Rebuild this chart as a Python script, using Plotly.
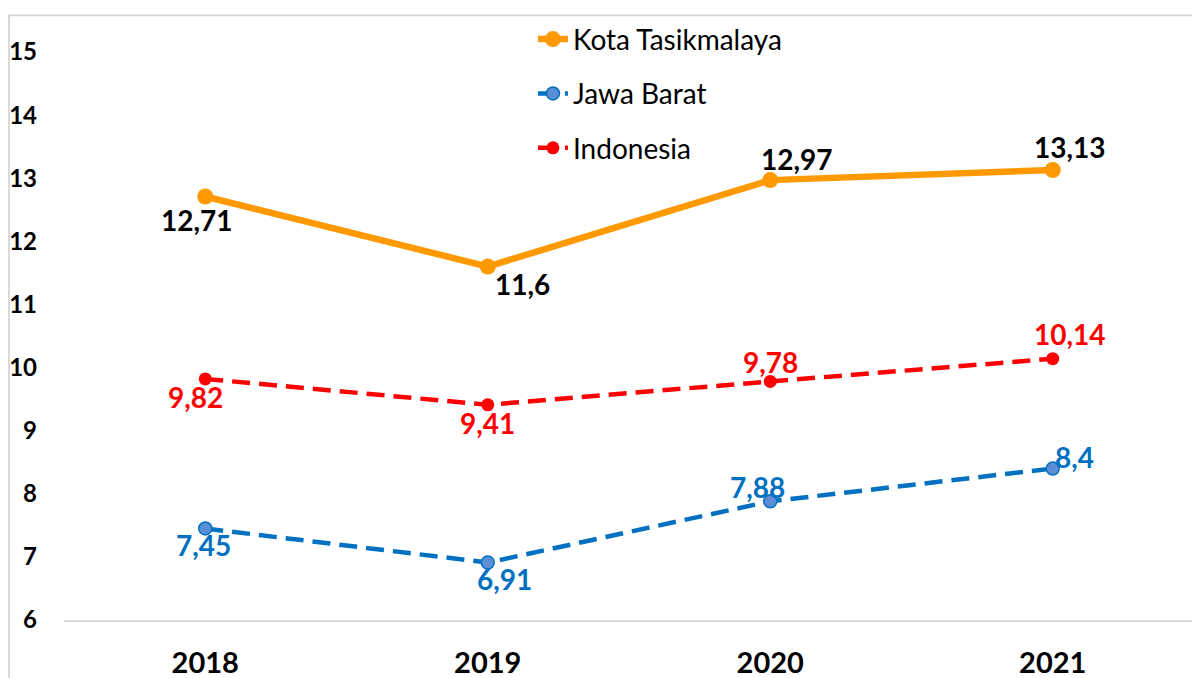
import plotly.graph_objects as go

years = ["2018", "2019", "2020", "2021"]
kota = [12.71, 11.6, 12.97, 13.13]
jabar = [7.45, 6.91, 7.88, 8.4]
indo = [9.82, 9.41, 9.78, 10.14]
y_ticks = [6, 7, 8, 9, 10, 11, 12, 13, 14, 15]

def fmt(v):
    return ("%g" % v).replace(".", ",")

FONT = "Lato"
fig = go.Figure()

fig.add_trace(go.Scatter(
    x=years, y=kota, name="Kota Tasikmalaya", mode="lines+markers",
    line=dict(color="#FF9900", width=6.5),
    marker=dict(color="#FF9900", size=16),
    legendgroup="a",
))
fig.add_trace(go.Scatter(
    x=years, y=jabar, name="Jawa Barat", mode="lines+markers",
    line=dict(color="#0070C0", width=4.5, dash="18px,9px"),
    marker=dict(color="#5B8ED6", size=13, line=dict(color="#0070C0", width=1.5)),
    legendgroup="b",
))
fig.add_trace(go.Scatter(
    x=years, y=indo, name="Indonesia", mode="lines+markers",
    line=dict(color="#FF0000", width=4.5, dash="18px,9px"),
    marker=dict(color="#FF0000", size=13),
    legendgroup="c",
))

# data label offsets (pixels)
offs = {
    "kota": [(-8, -23), (35, -17), (27, 21), (17, 23)],
    "indo": [(-10, -18), (0, -18), (0, 19), (17, 25)],
    "jabar": [(-2, -17), (17, -16), (-13, 14), (22, 12)],
}
series = [("kota", kota, "#000000"), ("indo", indo, "#FF0000"), ("jabar", jabar, "#0070C0")]
annots = []
for key, vals, col in series:
    for i, v in enumerate(vals):
        dx, dy = offs[key][i]
        annots.append(dict(
            xref="x", yref="y", x=i, y=v, text="<b>%s</b>" % fmt(v), showarrow=False,
            xshift=dx, yshift=dy, xanchor="center", yanchor="middle",
            font=dict(family=FONT, size=28, color=col),
        ))

fig.update_layout(
    width=1192, height=670,
    margin=dict(l=56, r=6, t=39, b=58),
    paper_bgcolor="white", plot_bgcolor="white",
    showlegend=True,
    annotations=annots,
    shapes=[dict(type="rect", xref="paper", yref="paper",
                 x0=-0.0487, x1=1.2, y0=-0.3, y1=1.0646,
                 line=dict(color="#D9D9D9", width=2), layer="below")],
    legend=dict(
        x=0.415, y=1.0663, xanchor="left", yanchor="top",
        font=dict(family=FONT, size=28, color="#000000"),
        traceorder="grouped", tracegroupgap=15,
        bgcolor="rgba(0,0,0,0)",
    ),
    xaxis=dict(
        type="category", range=[-0.5, 3.5], automargin=False,
        showgrid=False, showline=True, linecolor="#D9D9D9", linewidth=1.5,
        ticks="", tickfont=dict(family=FONT, size=29, color="#000000"),
        ticklabelstandoff=16, zeroline=False,
        tickvals=years, ticktext=["<b>%s</b>" % y for y in years],
    ),
    yaxis=dict(
        range=[6, 15], tickvals=y_ticks, automargin=False,
        ticktext=["<b>%d</b>" % t for t in y_ticks],
        showgrid=False, showline=False, zeroline=False, ticks="",
        tickfont=dict(family=FONT, size=24, color="#000000"),
        ticklabelstandoff=26,
    ),
)

fig.write_html("out.html")
